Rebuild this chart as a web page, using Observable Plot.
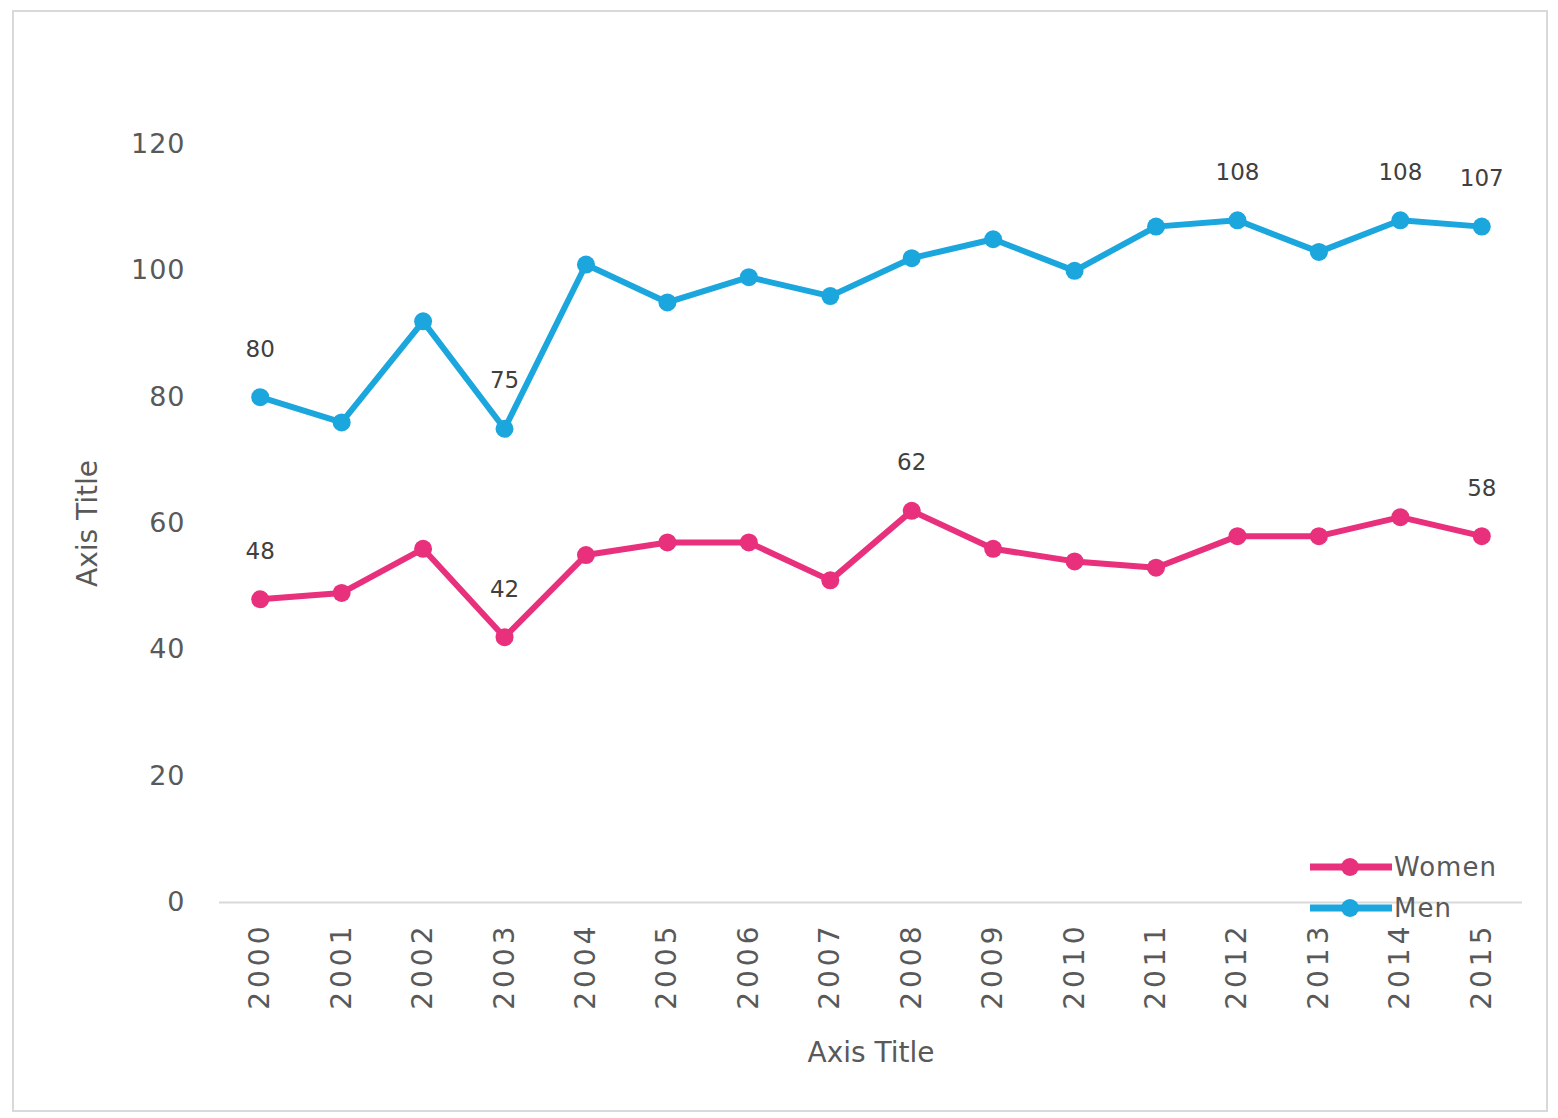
<!DOCTYPE html>
<html>
<head>
<meta charset="utf-8">
<script src="https://cdn.jsdelivr.net/npm/d3@7"></script>
<script src="https://cdn.jsdelivr.net/npm/@observablehq/plot@0.6"></script>
<style>
  html, body { margin: 0; padding: 0; background: #fff; }
  #frame { position: absolute; left: 12px; top: 10px; width: 1536px; height: 1102px; border: 2px solid #d9d9d9; box-sizing: border-box; }
  #chart { position: absolute; left: 0; top: 0; }
  #chart svg { font-family: "DejaVu Sans", sans-serif; }
  #chart [aria-label="y-axis tick label"] text { fill: #595959; letter-spacing: 1px; }
  #chart [aria-label="x-axis tick label"] text { fill: #595959; letter-spacing: 4px; }
  #chart [aria-label="x-axis label"] text, #chart [aria-label="y-axis label"] text { fill: #595959; }
  #legend { position: absolute; left: 1308px; top: 846px; font-family: "DejaVu Sans", sans-serif; font-size: 26px; color: #595959; letter-spacing: 1px; }
  #legend .row { display: flex; align-items: center; height: 41px; }
  #legend svg { display: block; }
</style>
</head>
<body>
<div id="frame"></div>
<div id="chart"></div>
<div id="legend"></div>
<script>
const years = [2000, 2001, 2002, 2003, 2004, 2005, 2006, 2007, 2008, 2009, 2010, 2011, 2012, 2013, 2014, 2015];
const women = [48, 49, 56, 42, 55, 57, 57, 51, 62, 56, 54, 53, 58, 58, 61, 58];
const men   = [80, 76, 92, 75, 101, 95, 99, 96, 102, 105, 100, 107, 108, 103, 108, 107];
const womenLabeledYears = [2000, 2003, 2008, 2015];
const menLabeledYears = [2000, 2003, 2012, 2014, 2015];
const seriesNames = ["Women", "Men"];
const seriesColors = ["#E8307C", "#1BA6DE"];
const yTicks = [0, 20, 40, 60, 80, 100, 120];
const xAxisTitle = "Axis Title";
const yAxisTitle = "Axis Title";

const data = [
  ...years.map((year, i) => ({series: "Women", year, value: women[i], labeled: womenLabeledYears.includes(year)})),
  ...years.map((year, i) => ({series: "Men", year, value: men[i], labeled: menLabeledYears.includes(year)}))
];

const chart = Plot.plot({
  width: 1558,
  height: 1118,
  marginLeft: 219,
  marginRight: 36,
  marginTop: 144,
  marginBottom: 216,
  x: {domain: [1999.5, 2015.5]},
  y: {domain: [0, 120]},
  color: {domain: seriesNames, range: seriesColors},
  marks: [
    Plot.ruleY([0], {stroke: "#d9d9d9", strokeWidth: 2}),
    Plot.axisY({ticks: yTicks, tickSize: 0, tickPadding: 34, fontSize: 27,
      label: yAxisTitle, labelAnchor: "center", labelOffset: 142, labelArrow: "none"}),
    Plot.axisX({ticks: years, tickFormat: d => String(d), tickRotate: -90, tickSize: 0, tickPadding: 20, fontSize: 28,
      label: xAxisTitle, labelAnchor: "center", labelOffset: 159, labelArrow: "none"}),
    Plot.line(data, {x: "year", y: "value", z: "series", stroke: "series", strokeWidth: 6, strokeLinejoin: "round"}),
    Plot.dot(data, {x: "year", y: "value", fill: "series", r: 9}),
    Plot.text(data.filter(d => d.labeled), {x: "year", y: "value", text: d => String(d.value), dy: -48,
      fontSize: 23, fill: "#404040", letterSpacing: 1})
  ]
});
chart.querySelectorAll('[aria-label="x-axis label"] text, [aria-label="y-axis label"] text').forEach(t => t.setAttribute("font-size", 28));
document.getElementById("chart").appendChild(chart);

const legend = document.getElementById("legend");
seriesNames.forEach((name, i) => {
  const row = document.createElement("div");
  row.className = "row";
  row.innerHTML = `<svg width="86" height="24"><line x1="2" y1="12" x2="84" y2="12" stroke="${seriesColors[i]}" stroke-width="7"/><circle cx="42" cy="12" r="9" fill="${seriesColors[i]}"/></svg><span>${name}</span>`;
  legend.appendChild(row);
});
</script>
</body>
</html>
